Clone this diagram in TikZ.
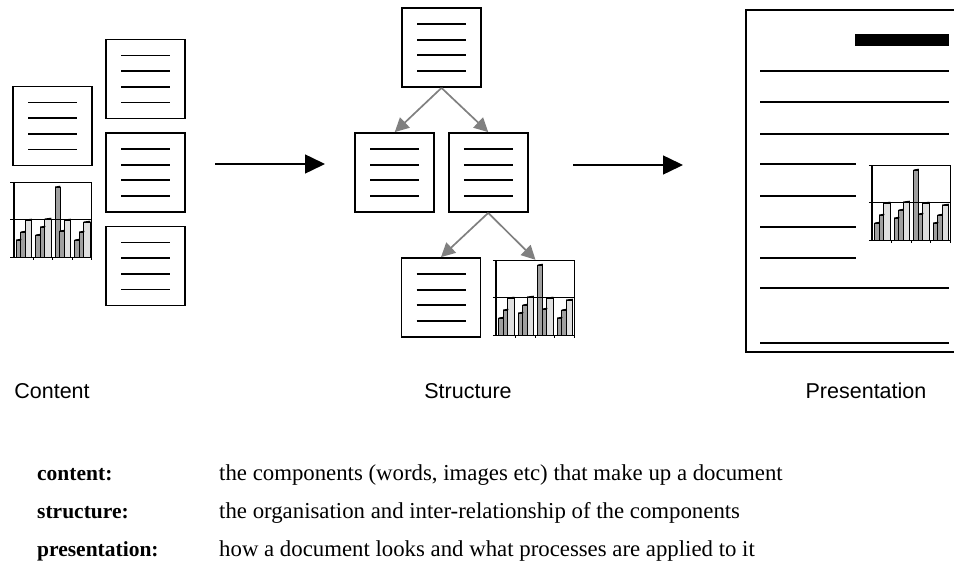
\documentclass[tikz,border=0pt]{standalone}
\usepackage{fontspec}
\setmainfont{Liberation Serif}
\setsansfont{Liberation Sans}
\usetikzlibrary{arrows.meta}

% small bar chart, drawn on top of a (chart) node
\newcommand{\barchart}[1]{%
  \begin{scope}[shift={(#1.south west)}, yscale=-1]
    \foreach \g/\ha/\hb/\hc in {0/17/25/37, 1/22/30/38, 2/70/26/37, 3/17/25/35} {
      \draw[bardark] (2.5+19.5*\g,0) rectangle ++(5,\ha);
      \draw[bardark] (7+19.5*\g,0) rectangle ++(5,\hb);
      \draw[barlight] (11.5+19.5*\g,0) rectangle ++(6.5,\hc);
      \draw[barcap] (2.5+19.5*\g,\ha) -- ++(5,0.8);
      \draw[barcap] (7+19.5*\g,\hb) -- ++(5,0.8);
      \draw[barcap] (11.5+19.5*\g,\hc) -- ++(6.5,0.8);
    }
    \draw[line width=0.9pt] (0,37.5) -- (78,37.5);
    \draw[line width=0.7pt] (0,75) -- (78,75) -- (78,0);
    \draw[line width=2pt] (0,0) -- (0,75);
    \draw[line width=1pt] (0,0) -- (78,0);
    \foreach \y in {0,37.5,75} \draw[line width=1pt] (-3.5,\y) -- (0,\y);
    \foreach \x in {19.5,39,58.5,78} \draw[line width=1pt] (\x,0) -- (\x,-3);
  \end{scope}}

\begin{document}
\begin{tikzpicture}[
    x=1pt, y=-1pt,
    level distance=125pt,
    level 1/.style={sibling distance=93.5pt},
    level 2/.style={sibling distance=94.5pt},
    parent anchor=south, child anchor=north,
    edge from parent/.style={draw=gray, line width=1.7pt,
        -{Triangle[length=14pt,width=14pt]}},
    doc/.style={
        draw=black, fill=white,
        line width=1.8pt,
        minimum width=79pt,
        minimum height=79pt,
        inner sep=0pt,
        path picture={
            \foreach \k in {-1.5,-0.5,0.5,1.5}
                \draw[black, line width=1.8pt]
                    ([xshift=-24.5pt,yshift=\k*15.7pt]path picture bounding box.center)
                    -- ++(49pt,0pt);
        }
    },
    chart/.style={minimum width=78pt, minimum height=75pt, inner sep=0pt},
    bardark/.style={draw=black, fill=gray!75, line width=1pt},
    barlight/.style={draw=black, fill=gray!25, line width=1pt},
    barcap/.style={draw=black, line width=1.4pt},
    flow/.style={line width=1.5pt, -{Triangle[length=20pt,width=19pt]}},
    textline/.style={line width=1.8pt},
    title/.style={font=\fontsize{21.5}{24}\sffamily},
    term/.style={anchor=west, inner sep=0pt, font=\fontsize{21.5}{24}\bfseries},
    meaning/.style={anchor=west, inner sep=0pt, font=\fontsize{22.8}{25}\selectfont}
]
\useasboundingbox (0,0) rectangle (954,578);

% content
\node[doc] (docA) at (52.5,126) {};
\node[doc] (docB) at (145.5,79) {};
\node[doc] (docC) at (145.5,172.5) {};
\node[doc] (docD) at (145.5,266) {};
\node[chart] (chartA) at (53,219.5) {};
\barchart{chartA}

% structure
\node[doc] (sRoot) at (441.5,47.5) {}
    child {
        node[doc] (sLeft) {}
    }
    child {
        node[doc] (sRight) {}
        child {
            node[doc] (sText) {}
        }
        child {
            node[chart] (sChart) {}
        }
    };
\barchart{sChart}

% arrows between the three stages
\coordinate (c1) at (215,164);
\coordinate (c2) at (325,164);
\coordinate (s1) at (573,165);
\coordinate (s2) at (683,165);
\draw[flow] (c1) -- (c2);
\draw[flow] (s1) -- (s2);

% presentation page
\draw[line width=2pt] (970,10) -- (746,10) -- (746,352) -- (970,352);
\fill (855,34) rectangle (949,46);
\foreach \y in {71,102,134,288,343}
    \draw[textline] (760,\y) -- (949,\y);
\foreach \y in {164,196,227,258}
    \draw[textline] (760,\y) -- (856,\y);
\node[chart] (pChart) at (911.5,202.5) {};
\barchart{pChart}

% labels
\node[title] (lContent) at (52,391) {Content};
\node[title] (lStructure) at (468,391) {Structure};
\node[title] (lPresentation) at (866,391) {Presentation};

\node[term] (tContent) at (37,475) {content:};
\node[term] (tStructure) at (37,513) {structure:};
\node[term] (tPresentation) at (37,551) {presentation:};
\node[meaning] (mContent) at (219,475) {the components (words, images etc) that make up a document};
\node[meaning] (mStructure) at (219,513) {the organisation and inter-relationship of the components};
\node[meaning] (mPresentation) at (219,551) {how a document looks and what processes are applied to it};
\end{tikzpicture}
\end{document}
